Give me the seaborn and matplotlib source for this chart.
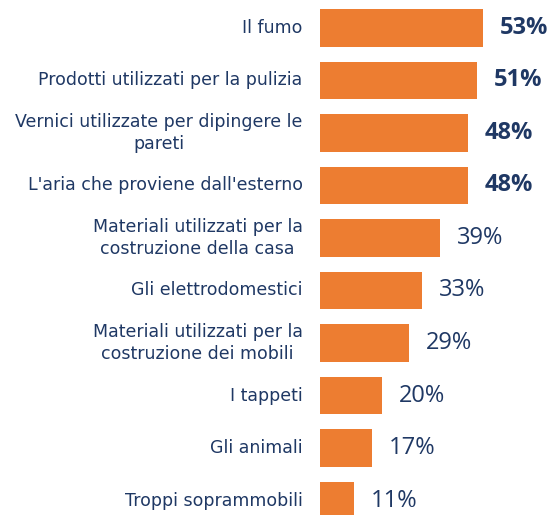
import seaborn as sns
import pandas as pd
import matplotlib.pyplot as plt
import matplotlib.transforms as mtransforms

categorie = ["Il fumo",
             "Prodotti utilizzati per la pulizia",
             "Vernici utilizzate per dipingere le\npareti",
             "L'aria che proviene dall'esterno",
             "Materiali utilizzati per la\ncostruzione della casa",
             "Gli elettrodomestici",
             "Materiali utilizzati per la\ncostruzione dei mobili",
             "I tappeti",
             "Gli animali",
             "Troppi soprammobili"]
valori = [53, 51, 48, 48, 39, 33, 29, 20, 17, 11]
grassetto = [True, True, True, True, False, False, False, False, False, False]

df = pd.DataFrame({"cat": categorie, "val": valori})

arancio = "#ED7D31"
blu = "#1F3864"

fig = plt.figure(figsize=(5.51, 5.15), dpi=100)
ax = fig.add_axes([320 / 551, 0, 231 / 551, 1])
sns.barplot(data=df, y="cat", x="val", orient="h", color=arancio,
            saturation=1, width=0.72, ax=ax)
ax.set_xlim(0, 75)
ax.set_ylim(9.276, -0.533)
ax.set_xlabel("")
ax.set_ylabel("")
ax.set_xticks([])
ax.set_yticks([])
for s in ax.spines.values():
    s.set_visible(False)

# etichette categorie, centrate su più righe
trans = mtransforms.offset_copy(ax.get_yaxis_transform(), fig=fig, x=-12.5, y=0, units="points")
for i, c in enumerate(categorie):
    ax.text(0, i, c, transform=trans, ha="right", va="center",
            multialignment="center", color=blu, fontsize=12.5,
            family="DejaVu Sans", linespacing=1.3)

for i, (v, b) in enumerate(zip(valori, grassetto)):
    ax.text(v + 5.5, i, f"{v}%", va="center", ha="left", color=blu,
            fontsize=17, fontweight="bold" if b else "normal", family="Open Sans")

fig.savefig("out.png", dpi=100)
